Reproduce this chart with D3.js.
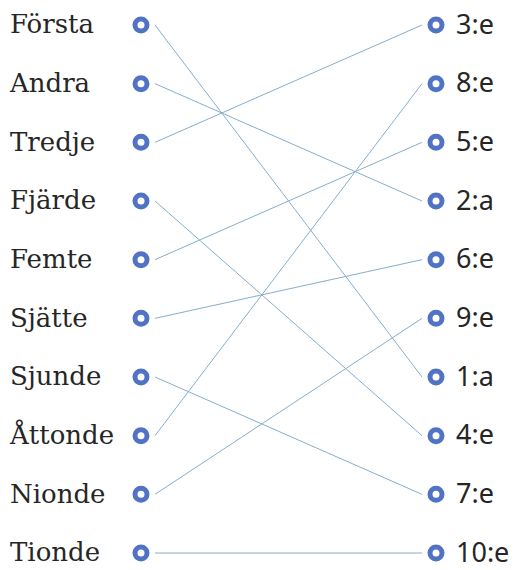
<!DOCTYPE html>
<html>
<head>
<meta charset="utf-8">
<script src="https://cdn.jsdelivr.net/npm/d3@7"></script>
<style>
  body { margin: 0; background: #fff; }
  .left { font-family: 'DejaVu Serif', serif; font-size: 26px; fill: #262626; }
  .right { font-family: 'Noto Sans', sans-serif; font-size: 27px; fill: #262626; }
</style>
</head>
<body>
<svg class="chart"></svg>
<script>
// left column, top to bottom
var leftLabels = ['Första', 'Andra', 'Tredje', 'Fjärde', 'Femte', 'Sjätte', 'Sjunde', 'Åttonde', 'Nionde', 'Tionde'];
// right column, top to bottom
var rightLabels = ['3:e', '8:e', '5:e', '2:a', '6:e', '9:e', '1:a', '4:e', '7:e', '10:e'];
// which right label each left label is joined to
var matches = ['1:a', '2:a', '3:e', '4:e', '5:e', '6:e', '7:e', '8:e', '9:e', '10:e'];

const width = 524, height = 570;
const svg = d3.select('svg.chart').attr('width', width).attr('height', height);

const y = d3.scalePoint().domain(d3.range(10)).range([25, 553]);
const xLeft = 141, xRight = 436, gap = 14;

const links = leftLabels.map((d, i) => ({from: i, to: rightLabels.indexOf(matches[i])}));

svg.append('g').selectAll('line')
  .data(links)
  .enter()
  .append('line')
  .attr('x1', xLeft + gap)
  .attr('y1', d => y(d.from))
  .attr('x2', xRight - gap)
  .attr('y2', d => y(d.to))
  .attr('stroke', '#86aecb')
  .attr('stroke-width', 1);

function column(labels, x, cls, tx) {
  let g = svg.append('g');
  g.selectAll('circle')
    .data(labels)
    .enter()
    .append('circle')
    .attr('cx', x)
    .attr('cy', (d, i) => y(i))
    .attr('r', 6)
    .attr('fill', 'white')
    .attr('stroke', '#5273c3')
    .attr('stroke-width', 5);
  g.selectAll('text')
    .data(labels)
    .enter()
    .append('text')
    .attr('class', cls)
    .attr('x', tx)
    .attr('y', (d, i) => y(i))
    .attr('dy', '0.32em')
    .text(d => d);
}

column(leftLabels, xLeft, 'left', 10);
column(rightLabels, xRight, 'right', 456);
</script>
</body>
</html>
